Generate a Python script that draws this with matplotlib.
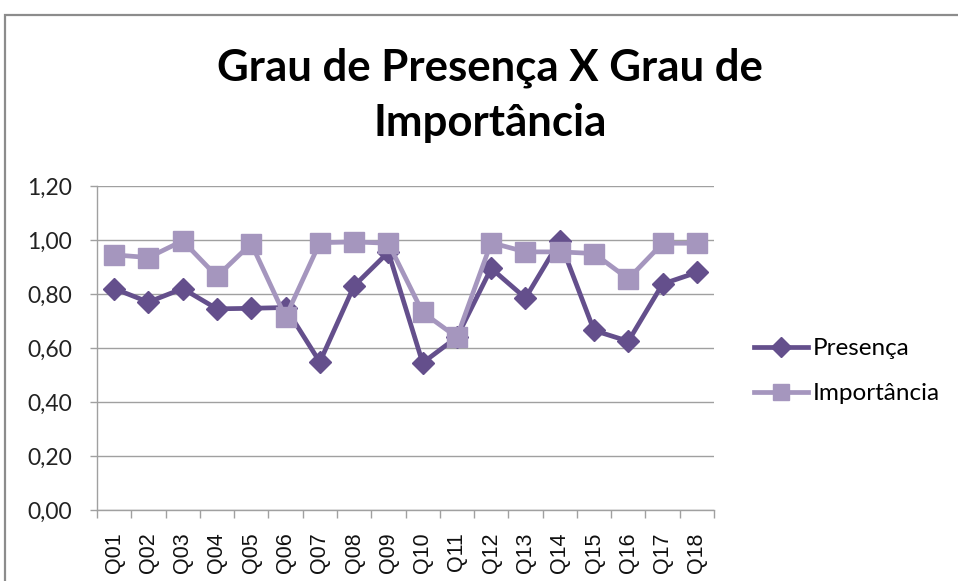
import matplotlib
matplotlib.use("Agg")
import matplotlib.pyplot as plt
from matplotlib.patches import Rectangle
from matplotlib.lines import Line2D

categories = ["Q01", "Q02", "Q03", "Q04", "Q05", "Q06", "Q07", "Q08", "Q09",
              "Q10", "Q11", "Q12", "Q13", "Q14", "Q15", "Q16", "Q17", "Q18"]
presenca = [0.82, 0.77, 0.82, 0.745, 0.747, 0.75, 0.548, 0.83, 0.955,
            0.545, 0.64, 0.895, 0.785, 0.997, 0.665, 0.625, 0.837, 0.88]
importancia = [0.945, 0.935, 0.997, 0.865, 0.987, 0.714, 0.99, 0.993, 0.988,
               0.732, 0.64, 0.99, 0.956, 0.956, 0.95, 0.856, 0.988, 0.988]
yticks = [0.0, 0.2, 0.4, 0.6, 0.8, 1.0, 1.2]
ytick_labels = ["0,00", "0,20", "0,40", "0,60", "0,80", "1,00", "1,20"]

dark = "#644F8C"
light = "#A596BE"
grid_c = "#A0A0A0"
W, H = 958, 581

fig = plt.figure(figsize=(W / 100, H / 100), dpi=100)
fig.patch.set_facecolor("white")

# chart frame
fig.add_artist(Rectangle((5 / W, -0.05), 1.1, 1 - 15 / H + 0.05,
                         transform=fig.transFigure, fill=False,
                         edgecolor="#8C8C8C", linewidth=1.6))

ax = fig.add_axes([97 / W, 1 - 510 / H, (714 - 97) / W, (510 - 186) / H])
x = list(range(len(categories)))

ax.plot(x, presenca, color=dark, linewidth=3.4, marker="D", markersize=11.5,
        label="Presença", zorder=3)
ax.plot(x, importancia, color=light, linewidth=3.4, marker="s", markersize=14,
        label="Importância", zorder=4)

ax.set_xlim(-0.5, len(categories) - 0.5)
ax.set_ylim(0, 1.2)
ax.set_yticks(yticks)
ax.set_yticklabels(ytick_labels, fontfamily="Lato", fontsize=16.5, color="#222222")
ax.set_xticks(x)
ax.set_xticklabels(categories, rotation=90, fontfamily="Liberation Sans",
                   fontsize=15.5, color="#111111")
ax.tick_params(axis="x", length=0, pad=16)
ax.tick_params(axis="y", length=5, width=1, color=grid_c, pad=13)

# category boundary ticks on the x axis
ax.set_xticks([i - 0.5 for i in range(len(categories) + 1)], minor=True)
ax.tick_params(axis="x", which="minor", length=6, width=1, color=grid_c)

ax.grid(axis="y", color=grid_c, linewidth=1)
ax.set_axisbelow(True)
for s in ["top", "right"]:
    ax.spines[s].set_visible(False)
for s in ["left", "bottom"]:
    ax.spines[s].set_color(grid_c)
    ax.spines[s].set_linewidth(1)

fig.text(490 / W, 1 - 80 / H, "Grau de Presença X Grau de", ha="center",
         va="baseline", fontfamily="Lato", fontweight="bold", fontsize=31.5)
fig.text(490 / W, 1 - 136 / H, "Importância", ha="center",
         va="baseline", fontfamily="Lato", fontweight="bold", fontsize=31.5)

handles = [
    Line2D([], [], color=dark, linewidth=3.4, marker="D", markersize=10),
    Line2D([], [], color=light, linewidth=3.4, marker="s", markersize=12),
]
fig.legend(handles, ["Presença", "Importância"], loc="upper left",
           bbox_to_anchor=(742 / W, 1 - 326 / H), frameon=False,
           prop={"family": "Lato", "size": 17.5}, handlelength=2.2,
           handletextpad=0.2, labelspacing=1.0, borderpad=0)

fig.savefig("out.png", dpi=100, facecolor="white")
